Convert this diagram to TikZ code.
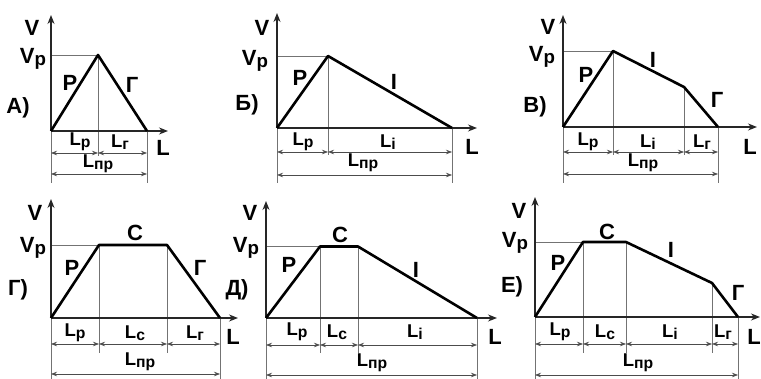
\documentclass[tikz,border=0pt]{standalone}
\usepackage{fontspec}
\setmainfont{Liberation Sans}
\usetikzlibrary{arrows.meta}

\newcommand{\sbs}[1]{\raisebox{-0.12em}{\scalebox{0.85}{#1}}}

\begin{document}
\begin{tikzpicture}[
    x=1pt, y=-1pt,
    profile/.style={line width=2.6pt, line join=round},
    axis/.style={line width=1.4pt, draw=black!85, -{Stealth[length=9pt,width=7pt]}},
    guide/.style={line width=0.6pt, draw=black!55},
    dim/.style={line width=0.7pt, draw=black!70, {Stealth[length=6pt,width=4.5pt]}-{Stealth[length=6pt,width=4.5pt]}},
    lbl/.style={inner sep=0pt, font=\bfseries\fontsize{22}{22}\selectfont},
    seglbl/.style={inner sep=0pt, font=\bfseries\fontsize{18.5}{18.5}\selectfont}
]
\useasboundingbox (0,0) rectangle (761,379);

% А)
\coordinate (aO) at (51,131);
\coordinate (aV) at (51,15);
\coordinate (aL) at (168,131);
\coordinate (aP) at (98,55);
\coordinate (aE) at (147,131);
\coordinate (aD1) at (0,153);
\coordinate (aD2) at (0,174);
\draw[guide] (aO) -- (aO |- 0,183);
\draw[guide] (aE) -- (aE |- 0,183);
\draw[guide] (aO |- aP) -- (aP) -- (aP |- 0,156);
\draw[axis] (aO) -- (aV);
\draw[axis] (aO) -- (aL);
\draw[profile] (aO) -- (aP) -- (aE);
\draw[dim] (aO |- aD1) -- (aP |- aD1);
\draw[dim] (aP |- aD1) -- (aE |- aD1);
\draw[dim] (aO |- aD2) -- (aE |- aD2);
\node[lbl] (aVt) at (32,28) {V};
\node[lbl] (aVp) at (33,59) {V\sbs{р}};
\node[lbl] (aR) at (70,83) {Р};
\node[lbl] (aG) at (132,85) {Г};
\node[lbl] (aName) at (18,108) {А)};
\node[seglbl] (aLr) at (80,142) {L\sbs{р}};
\node[seglbl] (aLg) at (120,142) {L\sbs{г}};
\node[lbl] (aLt) at (163,148) {L};
\node[seglbl] (aLpr) at (98,164) {L\sbs{пр}};

% Б)
\coordinate (bO) at (277,128);
\coordinate (bV) at (277,13);
\coordinate (bL) at (477,128);
\coordinate (bP) at (328,56);
\coordinate (bE) at (452,128);
\coordinate (bD1) at (0,152);
\coordinate (bD2) at (0,175);
\draw[guide] (bO) -- (bO |- 0,183);
\draw[guide] (bE) -- (bE |- 0,183);
\draw[guide] (bO |- bP) -- (bP) -- (bP |- 0,155);
\draw[axis] (bO) -- (bV);
\draw[axis] (bO) -- (bL);
\draw[profile] (bO) -- (bP) -- (bE);
\draw[dim] (bO |- bD1) -- (bP |- bD1);
\draw[dim] (bP |- bD1) -- (bE |- bD1);
\draw[dim] (bO |- bD2) -- (bE |- bD2);
\node[lbl] (bVt) at (262,28) {V};
\node[lbl] (bVp) at (255,61) {V\sbs{р}};
\node[lbl] (bR) at (300,78) {Р};
\node[lbl] (bI) at (394,82) {I};
\node[lbl] (bName) at (247,105) {Б)};
\node[seglbl] (bLr) at (303,142) {L\sbs{р}};
\node[seglbl] (bLi) at (388,142) {L\sbs{i}};
\node[lbl] (bLt) at (472,147) {L};
\node[seglbl] (bLpr) at (363,163) {L\sbs{пр}};

% В)
\coordinate (cO) at (563,127);
\coordinate (cV) at (563,15);
\coordinate (cL) at (757,127);
\coordinate (cP) at (613,51);
\coordinate (cK) at (684,87);
\coordinate (cE) at (718,127);
\coordinate (cD1) at (0,152);
\coordinate (cD2) at (0,174);
\draw[guide] (cO) -- (cO |- 0,183);
\draw[guide] (cE) -- (cE |- 0,183);
\draw[guide] (cO |- cP) -- (cP) -- (cP |- 0,155);
\draw[guide] (cK) -- (cK |- 0,155);
\draw[axis] (cO) -- (cV);
\draw[axis] (cO) -- (cL);
\draw[profile] (cO) -- (cP) -- (cK) -- (cE);
\draw[dim] (cO |- cD1) -- (cP |- cD1);
\draw[dim] (cP |- cD1) -- (cK |- cD1);
\draw[dim] (cK |- cD1) -- (cE |- cD1);
\draw[dim] (cO |- cD2) -- (cE |- cD2);
\node[lbl] (cVt) at (548,27) {V};
\node[lbl] (cVp) at (542,57) {V\sbs{р}};
\node[lbl] (cR) at (586,75) {Р};
\node[lbl] (cI) at (653,60) {I};
\node[lbl] (cG) at (717,100) {Г};
\node[lbl] (cName) at (535,107) {В)};
\node[seglbl] (cLr) at (588,142) {L\sbs{р}};
\node[seglbl] (cLi) at (648,142) {L\sbs{i}};
\node[seglbl] (cLg) at (702,142) {L\sbs{г}};
\node[lbl] (cLt) at (750,147) {L};
\node[seglbl] (cLpr) at (643,163) {L\sbs{пр}};

% Г)
\coordinate (dO) at (51,318);
\coordinate (dV) at (51,199);
\coordinate (dL) at (238,318);
\coordinate (dP) at (99,245);
\coordinate (dQ) at (167,245);
\coordinate (dE) at (220,318);
\coordinate (dD1) at (0,344);
\coordinate (dD2) at (0,374);
\draw[guide] (dO) -- (dO |- 0,379);
\draw[guide] (dE) -- (dE |- 0,379);
\draw[guide] (dO |- dP) -- (dP) -- (dP |- 0,353);
\draw[guide] (dQ) -- (dQ |- 0,353);
\draw[axis] (dO) -- (dV);
\draw[axis] (dO) -- (dL);
\draw[profile] (dO) -- (dP) -- (dQ) -- (dE);
\draw[dim] (dO |- dD1) -- (dP |- dD1);
\draw[dim] (dP |- dD1) -- (dQ |- dD1);
\draw[dim] (dQ |- dD1) -- (dE |- dD1);
\draw[dim] (dO |- dD2) -- (dE |- dD2);
\node[lbl] (dVt) at (35,213) {V};
\node[lbl] (dVp) at (33,248) {V\sbs{р}};
\node[lbl] (dR) at (72,268) {Р};
\node[lbl] (dC) at (135,233) {С};
\node[lbl] (dG) at (200,268) {Г};
\node[lbl] (dName) at (18,290) {Г)};
\node[seglbl] (dLr) at (75,333) {L\sbs{р}};
\node[seglbl] (dLc) at (135,333) {L\sbs{с}};
\node[seglbl] (dLg) at (195,333) {L\sbs{г}};
\node[lbl] (dLt) at (233,337) {L};
\node[seglbl] (dLpr) at (140,362) {L\sbs{пр}};

% Д)
\coordinate (eO) at (266,318);
\coordinate (eV) at (266,201);
\coordinate (eL) at (497,318);
\coordinate (eP) at (320,246.5);
\coordinate (eQ) at (358,246.5);
\coordinate (eE) at (477,318);
\coordinate (eD1) at (0,345);
\coordinate (eD2) at (0,375);
\draw[guide] (eO) -- (eO |- 0,379);
\draw[guide] (eE) -- (eE |- 0,379);
\draw[guide] (eO |- eP) -- (eP) -- (eP |- 0,353);
\draw[guide] (eQ) -- (eQ |- 0,353);
\draw[axis] (eO) -- (eV);
\draw[axis] (eO) -- (eL);
\draw[profile] (eO) -- (eP) -- (eQ) -- (eE);
\draw[dim] (eO |- eD1) -- (eP |- eD1);
\draw[dim] (eP |- eD1) -- (eQ |- eD1);
\draw[dim] (eQ |- eD1) -- (eE |- eD1);
\draw[dim] (eO |- eD2) -- (eE |- eD2);
\node[lbl] (eVt) at (250,213) {V};
\node[lbl] (eVp) at (246,248) {V\sbs{р}};
\node[lbl] (eR) at (289,265) {Р};
\node[lbl] (eC) at (340,235) {С};
\node[lbl] (eI) at (416,270) {I};
\node[lbl] (eName) at (237,290) {Д)};
\node[seglbl] (eLr) at (297,332) {L\sbs{р}};
\node[seglbl] (eLc) at (337,332) {L\sbs{с}};
\node[seglbl] (eLi) at (415,332) {L\sbs{i}};
\node[lbl] (eLt) at (495,337) {L};
\node[seglbl] (eLpr) at (372,363) {L\sbs{пр}};

% Е)
\coordinate (fO) at (535,317);
\coordinate (fV) at (535,197);
\coordinate (fL) at (760,317);
\coordinate (fP) at (583,242);
\coordinate (fQ) at (626,242);
\coordinate (fK) at (712,283);
\coordinate (fE) at (738,317);
\coordinate (fD1) at (0,344);
\coordinate (fD2) at (0,375);
\draw[guide] (fO) -- (fO |- 0,379);
\draw[guide] (fE) -- (fE |- 0,379);
\draw[guide] (fO |- fP) -- (fP) -- (fP |- 0,353);
\draw[guide] (fQ) -- (fQ |- 0,353);
\draw[guide] (fK) -- (fK |- 0,353);
\draw[axis] (fO) -- (fV);
\draw[axis] (fO) -- (fL);
\draw[profile] (fO) -- (fP) -- (fQ) -- (fK) -- (fE);
\draw[dim] (fO |- fD1) -- (fP |- fD1);
\draw[dim] (fP |- fD1) -- (fQ |- fD1);
\draw[dim] (fQ |- fD1) -- (fK |- fD1);
\draw[dim] (fK |- fD1) -- (fE |- fD1);
\draw[dim] (fO |- fD2) -- (fE |- fD2);
\node[lbl] (fVt) at (519,211) {V};
\node[lbl] (fVp) at (515,243) {V\sbs{р}};
\node[lbl] (fR) at (558,263) {Р};
\node[lbl] (fC) at (607,232) {С};
\node[lbl] (fI) at (671,250) {I};
\node[lbl] (fG) at (738,293) {Г};
\node[lbl] (fName) at (512,287) {Е)};
\node[seglbl] (fLr) at (560,332) {L\sbs{р}};
\node[seglbl] (fLc) at (605,332) {L\sbs{с}};
\node[seglbl] (fLi) at (670,332) {L\sbs{i}};
\node[seglbl] (fLg) at (723,332) {L\sbs{г}};
\node[lbl, anchor=east] (fLt) at (761,337) {L};
\node[seglbl] (fLpr) at (638,363) {L\sbs{пр}};
\end{tikzpicture}
\end{document}
